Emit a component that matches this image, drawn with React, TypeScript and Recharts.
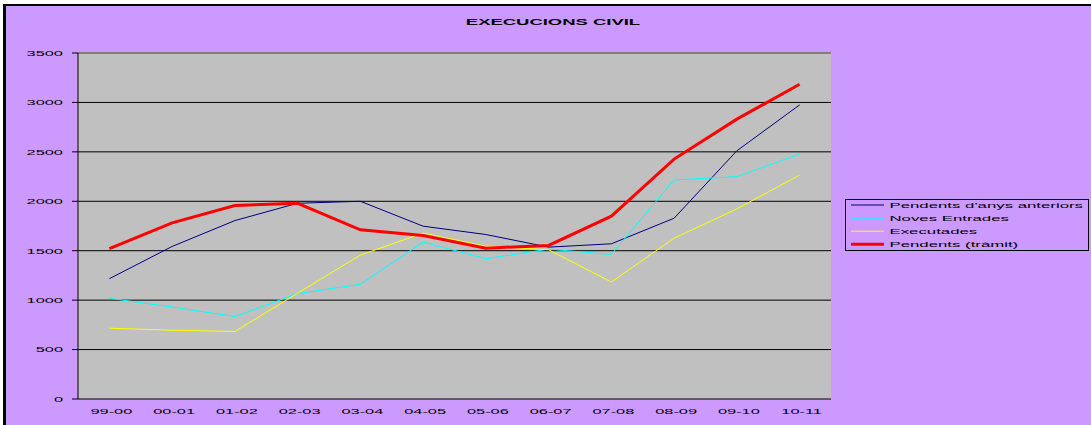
import React from 'react';
import { LineChart, Line, XAxis, YAxis, CartesianGrid, Legend, ReferenceLine } from 'recharts';

const categories = ['99-00', '00-01', '01-02', '02-03', '03-04', '04-05', '05-06', '06-07', '07-08', '08-09', '09-10', '10-11'];
const pendentsAnteriors = [1217, 1543, 1805, 1980, 2000, 1748, 1664, 1536, 1570, 1829, 2511, 2975];
const novesEntrades = [1019, 931, 834, 1066, 1160, 1587, 1419, 1516, 1462, 2216, 2249, 2478];
const executades = [716, 696, 683, 1070, 1456, 1678, 1546, 1510, 1183, 1627, 1923, 2266];
const pendentsTramit = [1520, 1782, 1957, 1980, 1711, 1654, 1526, 1553, 1849, 2427, 2831, 3184];
const yTicks = [0, 500, 1000, 1500, 2000, 2500, 3000, 3500];
const boundaryTicks = [0, 1, 2, 3, 4, 5, 6, 7, 8, 9, 10, 11, 12];

const series = [
  { key: 'anteriors', name: "Pendents d'anys anteriors", values: pendentsAnteriors, color: '#000080', width: 1 },
  { key: 'noves', name: 'Noves Entrades', values: novesEntrades, color: '#00FFFF', width: 1 },
  { key: 'executades', name: 'Executades', values: executades, color: '#FFFF00', width: 1 },
  { key: 'tramit', name: 'Pendents (tràmit)', values: pendentsTramit, color: '#FF0000', width: 3 },
];

const data = categories.map((c, i) => {
  const row: any = { cat: c };
  series.forEach((s) => (row[s.key] = s.values[i]));
  return row;
});

const FONT = '"Liberation Sans", Arial, sans-serif';
const SX = 2.05;

const Stretched = ({ x, y, text, anchor = 'middle', size = 8, weight = 'normal', sx = SX }: any) => (
  <g transform={`translate(${x},${y}) scale(${sx},1)`}>
    <text x={0} y={0} textAnchor={anchor} dominantBaseline="central" fontSize={size} fontWeight={weight} fontFamily={FONT} fill="#000">
      {text}
    </text>
  </g>
);

const YTick = (props: any) => <Stretched x={props.x} y={props.y} text={String(props.payload.value)} anchor="end" />;
const XTick = (props: any) => <Stretched x={props.x + 2} y={props.y} text={props.payload.value} anchor="middle" />;
const Empty = () => <g />;

const LegendBox = () => (
  <svg width={244} height={52} style={{ display: 'block' }}>
    <rect x={0.5} y={0.5} width={243} height={51} fill="none" stroke="#000" strokeWidth={1} />
    {series.map((s, i) => {
      const cy = 6 + i * 13.1;
      return (
        <g key={s.key}>
          <line x1={6} x2={39} y1={cy} y2={cy} stroke={s.color} strokeWidth={s.width} />
          <Stretched x={44.5} y={cy} text={s.name} anchor="start" sx={2.1} />
        </g>
      );
    })}
  </svg>
);

export default function App() {
  return (
    <div style={{ position: 'absolute', left: 0, top: 0, width: 1091, height: 425, background: '#fff', overflow: 'hidden' }}>
      <div
        style={{
          position: 'absolute',
          left: 3,
          top: 4,
          width: 1088,
          height: 421,
          background: '#CC99FF',
          borderLeft: '3px solid #000',
          borderTop: '2px solid #000',
          boxSizing: 'border-box',
        }}
      />
      <div
        style={{
          position: 'absolute',
          left: 553,
          top: 21.5,
          transform: `translate(-50%, -50%) scaleX(${SX})`,
          fontFamily: FONT,
          fontWeight: 'bold',
          fontSize: 9,
          whiteSpace: 'nowrap',
          lineHeight: 1,
          color: '#000',
        }}
      >
        EXECUCIONS CIVIL
      </div>
      <div style={{ position: 'absolute', left: 0, top: 0 }}>
        <LineChart width={1091} height={425} data={data} margin={{ top: 53, right: 260, bottom: 0, left: 0 }}>
          <CartesianGrid vertical={false} stroke="#000" fill="#C0C0C0" fillOpacity={1} />
          <XAxis
            xAxisId="b"
            type="number"
            domain={[0, 12]}
            allowDataOverflow
            ticks={boundaryTicks}
            height={0}
            tickSize={5}
            tick={Empty}
            axisLine={{ stroke: '#000' }}
            tickLine={{ stroke: '#000' }}
          />
          <XAxis
            dataKey="cat"
            scale="band"
            height={26}
            tickSize={0}
            tickMargin={12}
            axisLine={false}
            tickLine={false}
            tick={XTick}
            interval={0}
          />
          <YAxis
            width={78}
            domain={[0, 3500]}
            ticks={yTicks}
            tickSize={6}
            tickMargin={9}
            tick={YTick}
            axisLine={{ stroke: '#000' }}
            tickLine={{ stroke: '#000' }}
            interval={0}
          />
          <YAxis yAxisId="r" orientation="right" width={0} domain={[0, 3500]} tick={false} tickLine={false} axisLine={{ stroke: '#808080', strokeWidth: 2 }} />
          <ReferenceLine y={3500} stroke="#808080" strokeWidth={2} />
          {series.map((s) => (
            <Line
              key={s.key}
              type="linear"
              dataKey={s.key}
              name={s.name}
              stroke={s.color}
              strokeWidth={s.width}
              dot={false}
              activeDot={false}
              isAnimationActive={false}
            />
          ))}
          <Legend
            layout="horizontal"
            verticalAlign="middle"
            align="center"
            content={LegendBox}
            wrapperStyle={{ position: 'absolute', left: 845, top: 199, width: 244, height: 52 }}
          />
        </LineChart>
      </div>
    </div>
  );
}
